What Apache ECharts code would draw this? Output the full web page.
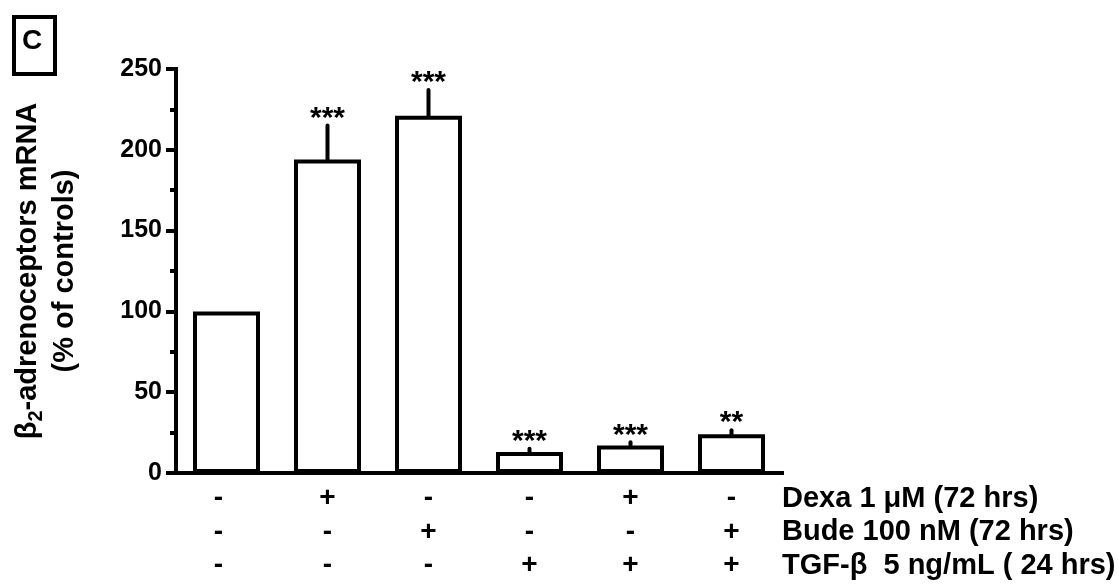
<!DOCTYPE html>
<html>
<head>
<meta charset="utf-8">
<script src="https://cdn.jsdelivr.net/npm/echarts@6/dist/echarts.min.js"></script>
<style>
  html, body { margin: 0; padding: 0; background: #fff; }
  #chart { width: 1118px; height: 588px; }
</style>
</head>
<body>
<div id="chart"></div>
<script>
// Treatment design: one entry per group (+ = given, - = not given)
const dexaRow = ['-', '+', '-', '-', '+', '-'];
const budeRow = ['-', '-', '+', '-', '-', '+'];
const tgfRow  = ['-', '-', '-', '+', '+', '+'];
const treatmentNames = ['Dexa 1 \u03bcM (72 hrs)', 'Bude 100 nM (72 hrs)', 'TGF-\u03b2  5 ng/mL ( 24 hrs)'];

// β2-adrenoceptor mRNA, % of controls (mean and SEM)
const meanValues = [100, 194, 221, 13, 17, 24];
const semValues  = [0, 21, 16, 2, 2, 2.5];
const significance = ['', '***', '***', '***', '***', '**'];

// Value axis
const yMin = 0, yMax = 250, yStep = 50;

const FONT = 'Liberation Sans, Arial, sans-serif';
const categoryLabels = dexaRow.map((d, i) => [d, budeRow[i], tgfRow[i]].join('\n'));

const chart = echarts.init(document.getElementById('chart'), null, { renderer: 'canvas' });

chart.setOption({
  animation: false,
  backgroundColor: '#fff',
  grid: { left: 176, right: 336, top: 69, bottom: 115, containLabel: false },
  xAxis: {
    type: 'category',
    // the control column's signs sit a little left of its bar
    data: categoryLabels.map((v, i) => i === 0 ? { value: v, textStyle: { padding: [0, 16, 0, 0] } } : v),
    boundaryGap: true,
    axisLine: { show: true, lineStyle: { color: '#000', width: 4, cap: 'square' } },
    axisTick: { show: false },
    axisLabel: {
      interval: 0,
      margin: 9,
      color: '#000',
      fontFamily: FONT,
      fontWeight: 'bold',
      fontSize: 28,
      lineHeight: 33.5,
      align: 'center',
      verticalAlign: 'top'
    },
    splitLine: { show: false }
  },
  yAxis: {
    type: 'value',
    min: yMin,
    max: yMax,
    interval: yStep,
    name: '{t|\u03b2}{s|2}{t|-adrenoceptors mRNA}\n{t|(% of controls)}',
    nameLocation: 'middle',
    nameRotate: 90,
    nameGap: 93,
    nameTextStyle: {
      color: '#000',
      fontFamily: FONT,
      fontWeight: 'bold',
      fontSize: 29,
      lineHeight: 37,
      align: 'center',
      rich: {
        t: { fontFamily: FONT, fontWeight: 'bold', fontSize: 29, lineHeight: 37, color: '#000' },
        s: { fontFamily: FONT, fontWeight: 'bold', fontSize: 20, lineHeight: 22, color: '#000', verticalAlign: 'bottom' }
      }
    },
    axisLine: { show: true, lineStyle: { color: '#000', width: 4, cap: 'square' } },
    axisTick: { show: true, length: 10, lineStyle: { color: '#000', width: 4 } },
    minorTick: { show: true, splitNumber: 2, length: 6, lineStyle: { color: '#000', width: 4 } },
    axisLabel: {
      margin: 14,
      color: '#000',
      fontFamily: FONT,
      fontWeight: 'bold',
      fontSize: 25
    },
    splitLine: { show: false },
    minorSplitLine: { show: false }
  },
  series: [
    {
      type: 'bar',
      data: meanValues,
      barWidth: 67,
      itemStyle: { color: '#fff', borderColor: '#000', borderWidth: 4 },
      z: 2
    },
    {
      // SEM whiskers (upper only) with significance stars
      type: 'custom',
      z: 3,
      data: meanValues.map((m, i) => [i, m, semValues[i]]),
      renderItem: function (params, api) {
        const i = api.value(0);
        const mean = api.value(1);
        const sem = api.value(2);
        const base = api.coord([i, mean]);
        const tip = api.coord([i, mean + sem]);
        const children = [];
        if (sem > 0) {
          children.push({
            type: 'line',
            shape: { x1: base[0], y1: base[1], x2: tip[0], y2: tip[1] },
            style: { stroke: '#000', lineWidth: 4, lineCap: 'round' }
          });
        }
        const star = significance[params.dataIndex];
        if (star) {
          children.push({
            type: 'text',
            style: {
              text: star,
              x: tip[0],
              y: tip[1] - 7,
              align: 'center',
              verticalAlign: 'middle',
              fontFamily: FONT,
              fontWeight: 'bold',
              fontSize: 30,
              fill: '#000'
            }
          });
        }
        return { type: 'group', children: children };
      }
    }
  ],
  graphic: [
    {
      // panel letter
      type: 'group',
      left: 12,
      top: 15,
      children: [
        { type: 'rect', shape: { x: 2, y: 2, width: 41, height: 57 }, style: { fill: '#fff', stroke: '#000', lineWidth: 4 } },
        { type: 'text', style: { text: 'C', x: 20, y: 26, align: 'center', verticalAlign: 'middle', fontFamily: FONT, fontWeight: 'bold', fontSize: 28, fill: '#000' } }
      ]
    },
    {
      // treatment row names
      type: 'text',
      left: 782,
      top: 482,
      style: {
        text: treatmentNames.join('\n'),
        fontFamily: FONT,
        fontWeight: 'bold',
        fontSize: 29,
        lineHeight: 33.5,
        fill: '#000',
        align: 'left'
      }
    }
  ]
});
</script>
</body>
</html>
